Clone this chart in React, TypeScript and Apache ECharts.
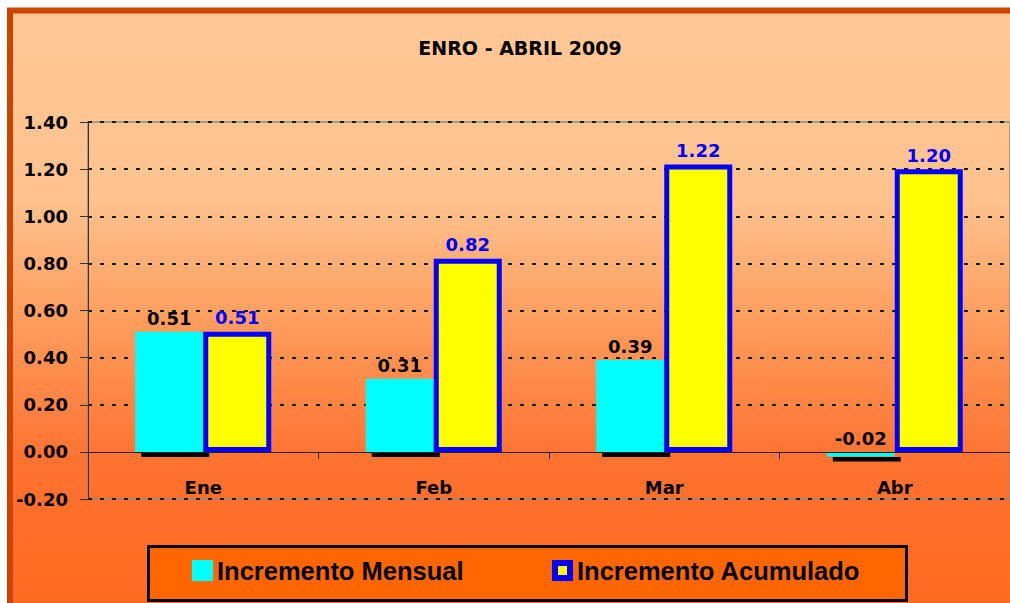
import React, { useEffect, useRef } from "react";
import * as echarts from "echarts";

const categories = ["Ene", "Feb", "Mar", "Abr"];
const mensual = [0.51, 0.31, 0.39, -0.02];
const acumulado = [0.51, 0.82, 1.22, 1.2];
const yMin = -0.2;
const yMax = 1.4;
const yStep = 0.2;
const titleText = "ENRO - ABRIL 2009";
const seriesNames = ["Incremento Mensual", "Incremento Acumulado"];

export default function App() {
  const ref = useRef<HTMLDivElement>(null);
  useEffect(() => {
    const chart = echarts.init(ref.current!, null, { renderer: "svg" });
    const numFont = "'DejaVu Sans', sans-serif";
    const legFont = "'Liberation Sans', Arial, sans-serif";
    const nLines = Math.round((yMax - yMin) / yStep) + 1;
    const splitColors = Array.from({ length: nLines }, (_, i) =>
      Math.abs(yMin + i * yStep) < 1e-9 ? "rgba(0,0,0,0)" : "#102000"
    );
    const fmt = (v: number) => Number(v).toFixed(2);
    chart.setOption({
      animation: false,
      graphic: [
        {
          type: "rect",
          z: -10,
          shape: { x: 10, y: 10.5, width: 1030, height: 640 },
          style: {
            fill: new echarts.graphic.LinearGradient(
              0, 10, 0, 603,
              [
                { offset: 0, color: "#FFC896" },
                { offset: 0.32, color: "#FFC28E" },
                { offset: 0.54, color: "#FF9A5A" },
                { offset: 0.76, color: "#FF7230" },
                { offset: 1, color: "#FF6A20" },
              ],
              true
            ),
            stroke: "#CC4400",
            lineWidth: 6,
          },
        },
        {
          type: "text",
          z: 10,
          x: 520,
          y: 48,
          style: {
            text: titleText,
            fontFamily: numFont,
            fontWeight: "bold",
            fontSize: 19,
            fill: "#000",
            align: "center",
            verticalAlign: "middle",
          },
        },
        {
          type: "rect",
          z: 10,
          shape: { x: 148.5, y: 546.5, width: 758, height: 54 },
          style: { fill: "#FF6600", stroke: "#000", lineWidth: 3 },
        },
        {
          type: "rect",
          z: 11,
          shape: { x: 192, y: 560, width: 21, height: 21 },
          style: { fill: "#00FFFF" },
        },
        {
          type: "rect",
          z: 11,
          shape: { x: 552, y: 560, width: 21, height: 21 },
          style: { fill: "#0000FF" },
        },
        {
          type: "rect",
          z: 12,
          shape: { x: 558, y: 566, width: 9, height: 9 },
          style: { fill: "#FFFF00" },
        },
        {
          type: "text",
          z: 11,
          x: 217,
          y: 571,
          style: {
            text: seriesNames[0],
            fontFamily: legFont,
            fontWeight: "bold",
            fontSize: 25.5,
            fill: "#000",
            align: "left",
            verticalAlign: "middle",
          },
        },
        {
          type: "text",
          z: 11,
          x: 577,
          y: 571,
          style: {
            text: seriesNames[1],
            fontFamily: legFont,
            fontWeight: "bold",
            fontSize: 25.5,
            fill: "#000",
            align: "left",
            verticalAlign: "middle",
          },
        },
      ],
      grid: {
        left: 88,
        top: 122,
        width: 928,
        height: 377,
        show: true,
        borderColor: "#8a8a8a",
        borderWidth: 1.5,
        backgroundColor: "transparent",
      },
      xAxis: {
        type: "category",
        data: categories,
        z: 3,
        axisLine: { onZero: true, lineStyle: { color: "#222", width: 1 } },
        axisTick: { show: true, length: 7, lineStyle: { color: "#222" } },
        axisLabel: {
          margin: -21,
          fontFamily: numFont,
          fontWeight: "bold",
          fontSize: 18,
          color: "#000",
        },
      },
      yAxis: {
        type: "value",
        min: yMin,
        max: yMax,
        interval: yStep,
        axisLine: { show: true, lineStyle: { color: "#333", width: 1 } },
        axisTick: { show: true, length: 8, lineStyle: { color: "#333" } },
        axisLabel: {
          formatter: fmt,
          margin: 20,
          fontFamily: numFont,
          fontWeight: "bold",
          fontSize: 18,
          color: "#000",
        },
        splitLine: {
          show: true,
          lineStyle: { color: splitColors, type: [4, 8], width: 2 },
        },
      },
      series: [
        {
          name: seriesNames[0],
          type: "bar",
          data: mensual,
          barWidth: 68,
          barGap: "0%",
          itemStyle: {
            color: "#00FFFF",
            shadowColor: "#000",
            shadowOffsetX: 6,
            shadowOffsetY: 5,
            shadowBlur: 0,
          },
          label: {
            show: true,
            position: "top",
            distance: 4,
            formatter: (p: any) => fmt(p.value),
            color: "#000",
            fontFamily: numFont,
            fontWeight: "bold",
            fontSize: 18,
          },
        },
        {
          name: seriesNames[1],
          type: "bar",
          data: acumulado,
          barWidth: 68,
          barGap: "0%",
          itemStyle: { color: "#FFFF00", borderColor: "#0000FF", borderWidth: 5 },
          label: {
            show: true,
            position: "top",
            distance: 5,
            formatter: (p: any) => fmt(p.value),
            color: "#0000FF",
            fontFamily: numFont,
            fontWeight: "bold",
            fontSize: 18,
          },
        },
      ],
    });
    return () => chart.dispose();
  }, []);
  return (
    <div
      style={{
        position: "fixed",
        left: 0,
        top: 0,
        width: 1010,
        height: 603,
        background: "#fff",
        overflow: "hidden",
      }}
    >
      <div ref={ref} style={{ width: 1010, height: 603 }} />
    </div>
  );
}
